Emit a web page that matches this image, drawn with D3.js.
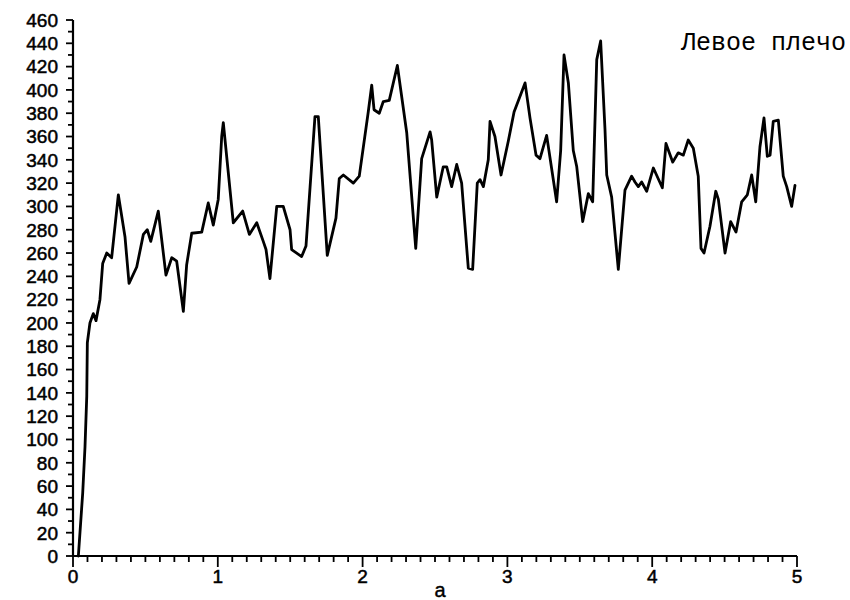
<!DOCTYPE html>
<html>
<head>
<meta charset="utf-8">
<script src="https://cdn.jsdelivr.net/npm/d3@7"></script>
<style>
  html, body { margin: 0; padding: 0; background: #fff; }
  svg { display: block; }
  .tick-label { font-family: "Liberation Sans", Arial, sans-serif; font-size: 19px; fill: #000; stroke: #000; stroke-width: 0.5px; }
</style>
</head>
<body>
<svg id="chart" width="850" height="600"></svg>
<script>
// Time (x) and force (y) samples of the left-shoulder trace
const times = [
  0.037, 0.067, 0.083, 0.095, 0.099, 0.117, 0.140, 0.159, 0.186, 0.205,
  0.233, 0.267, 0.313, 0.359, 0.387, 0.440, 0.486, 0.513, 0.537, 0.589,
  0.642, 0.682, 0.716, 0.762, 0.785, 0.820, 0.889, 0.934, 0.969, 1.003,
  1.027, 1.038, 1.107, 1.172, 1.218, 1.269, 1.314, 1.333, 1.360, 1.407,
  1.452, 1.499, 1.510, 1.579, 1.609, 1.671, 1.694, 1.756, 1.816, 1.839,
  1.867, 1.936, 1.977, 2.039, 2.063, 2.079, 2.115, 2.143, 2.184, 2.240,
  2.305, 2.367, 2.408, 2.466, 2.477, 2.512, 2.557, 2.581, 2.615, 2.650,
  2.684, 2.730, 2.760, 2.792, 2.811, 2.834, 2.868, 2.880, 2.914, 2.956,
  3.006, 3.046, 3.122, 3.156, 3.198, 3.225, 3.271, 3.340, 3.368, 3.391,
  3.421, 3.455, 3.479, 3.520, 3.559, 3.589, 3.617, 3.644, 3.674, 3.686,
  3.720, 3.766, 3.812, 3.858, 3.881, 3.904, 3.927, 3.962, 4.008, 4.070,
  4.095, 4.142, 4.180, 4.215, 4.249, 4.284, 4.318, 4.337, 4.358, 4.399,
  4.439, 4.457, 4.503, 4.542, 4.579, 4.618, 4.657, 4.687, 4.715, 4.744,
  4.772, 4.795, 4.814, 4.836, 4.871, 4.905, 4.929, 4.963, 4.986
];
const values = [
  0, 54, 94, 137, 183, 200, 208, 202, 220, 251,
  260, 256, 310, 274, 234, 248, 276, 280, 270, 296,
  241, 256, 253, 210, 250, 277, 278, 303, 284, 306,
  360, 372, 286, 296, 276, 286, 270, 263, 238, 300,
  300, 280, 263, 257, 266, 377, 377, 258, 290, 324,
  327, 320, 326, 381, 404, 383, 380, 390, 391, 421,
  363, 264, 341, 364, 357, 308, 334, 334, 317, 336,
  320, 247, 246, 320, 323, 317, 340, 373, 360, 327,
  356, 381, 406, 376, 344, 341, 361, 304, 348, 430,
  406, 348, 334, 287, 311, 304, 426, 442, 366, 327,
  308, 246, 314, 326, 321, 317, 321, 313, 333, 316,
  354, 338, 346, 344, 357, 350, 326, 264, 260, 283,
  313, 306, 260, 287, 278, 304, 310, 327, 304, 351,
  376, 343, 344, 373, 374, 326, 317, 300, 318
];
const xTickLabels = [0, 1, 2, 3, 4, 5];
const yTickLabels = d3.range(0, 461, 20);
const seriesLabel = "Левое плечо";
const xAxisTitle = "a";

const svg = d3.select("#chart");
const x = d3.scaleLinear().domain([0, 5]).range([73, 797]);
const y = d3.scaleLinear().domain([0, 460]).range([556, 20]);

// Y axis: minor ticks every 10, labels every 20
const yAxis = svg.append("g").attr("transform", `translate(${x(0)},0)`);
yAxis.append("line")
  .attr("x1", 0).attr("x2", 0).attr("y1", y(0)).attr("y2", y(460))
  .attr("stroke", "#000").attr("stroke-width", 2.2);
yAxis.selectAll("line.minor").data(d3.range(0, 461, 10)).join("line")
  .attr("class", "minor")
  .attr("x1", d => d % 20 === 0 ? -7 : -5).attr("x2", 0)
  .attr("y1", d => y(d)).attr("y2", d => y(d))
  .attr("stroke", "#000").attr("stroke-width", 1.8);
yAxis.selectAll("text").data(yTickLabels).join("text")
  .attr("class", "tick-label")
  .attr("x", -15).attr("y", d => y(d))
  .attr("dy", "0.36em")
  .attr("text-anchor", "end")
  .text(d => d);

// X axis: minor ticks every 0.1, labels at integers
const xAxis = svg.append("g").attr("transform", `translate(0,${y(0)})`);
xAxis.append("line")
  .attr("x1", x(0)).attr("x2", x(5)).attr("y1", 0).attr("y2", 0)
  .attr("stroke", "#000").attr("stroke-width", 2.2);
xAxis.selectAll("line.minor").data(d3.range(0, 51)).join("line")
  .attr("class", "minor")
  .attr("x1", d => x(d / 10)).attr("x2", d => x(d / 10))
  .attr("y1", 0).attr("y2", d => d % 10 === 0 ? 11 : 6)
  .attr("stroke", "#000").attr("stroke-width", 1.8);
xAxis.selectAll("text").data(xTickLabels).join("text")
  .attr("class", "tick-label")
  .attr("x", d => x(d)).attr("y", 27)
  .attr("text-anchor", "middle")
  .text(d => d);

svg.append("text")
  .attr("x", 440).attr("y", 597)
  .attr("text-anchor", "middle")
  .attr("font-family", "Liberation Sans, Arial, sans-serif")
  .attr("font-size", 20)
  .attr("stroke", "#000").attr("stroke-width", 0.4)
  .text(xAxisTitle);

// Trace
const pts = times.map((t, i) => [t, values[i]]);
svg.append("path")
  .datum(pts)
  .attr("fill", "none")
  .attr("stroke", "#000")
  .attr("stroke-width", 2.8)
  .attr("stroke-linejoin", "round")
  .attr("stroke-linecap", "round")
  .attr("d", d3.line().x(d => x(d[0])).y(d => y(d[1])));

svg.append("text")
  .attr("x", 681).attr("y", 50)
  .attr("font-family", "Liberation Mono, DejaVu Sans Mono, monospace")
  .attr("font-size", 25)
  .text(seriesLabel);
</script>
</body>
</html>
